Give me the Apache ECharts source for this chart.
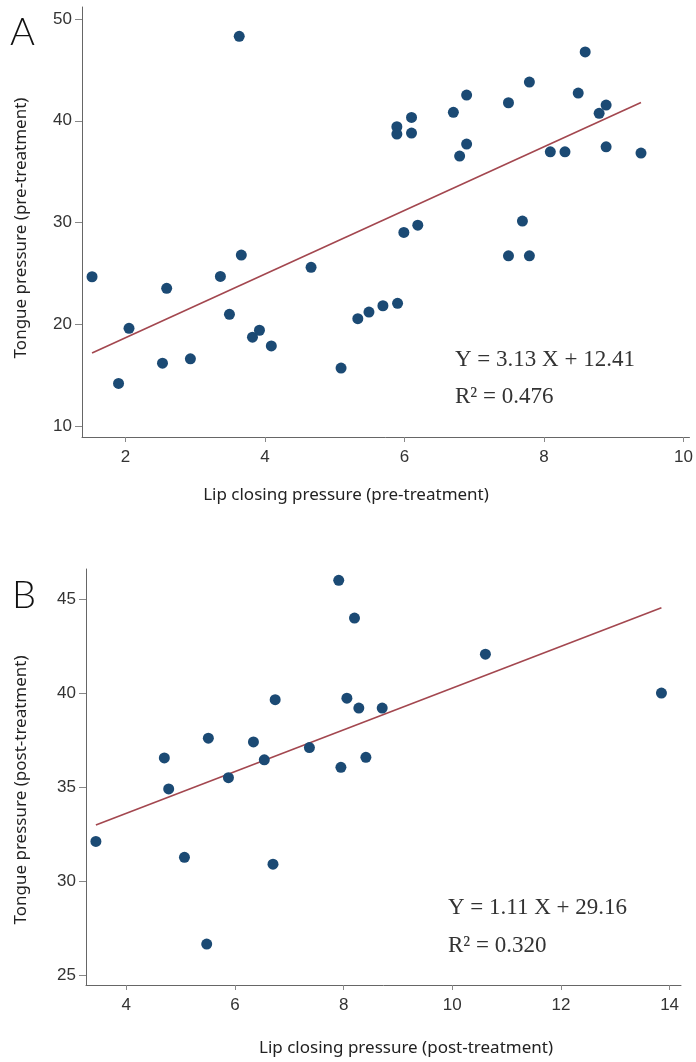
<!DOCTYPE html>
<html>
<head>
<meta charset="utf-8">
<script src="https://cdn.jsdelivr.net/npm/echarts@6/dist/echarts.min.js"></script>
<style>
	html, body { margin: 0; padding: 0; background: #fff; }
	#chart { width: 696px; height: 1062px; }
</style>
</head>
<body>
<div id="chart"></div>
<script>
// panel A: pre-treatment
const lipPre = [1.52, 1.90, 2.05, 2.53, 2.59, 2.93, 3.36, 3.49, 3.63, 3.66, 3.82, 3.92, 4.09, 4.66, 5.09, 5.33, 5.49,
	5.69, 5.90, 5.89, 5.89, 5.99, 6.10, 6.10, 6.19, 6.70, 6.79, 6.89, 6.89, 7.49, 7.49, 7.69, 7.79, 7.79,
	8.09, 8.30, 8.49, 8.59, 8.79, 8.89, 8.89, 9.39];
const tonguePre = [24.67, 14.18, 19.6, 16.18, 23.53, 16.6, 24.7, 20.98, 48.3, 26.8, 18.73, 19.41, 17.87, 25.6, 15.69, 20.55, 21.2,
	21.82, 22.06, 39.41, 38.69, 29.03, 40.33, 38.79, 29.74, 40.83, 36.53, 42.53, 37.71, 41.77, 26.73, 30.14, 26.73, 43.8,
	36.95, 36.95, 42.72, 46.76, 40.73, 41.54, 37.44, 36.82];
const slopePre = 3.13, interceptPre = 12.41, r2Pre = '0.476';
const xTicksPre = [2, 4, 6, 8, 10];
const yTicksPre = [10, 20, 30, 40, 50];

// panel B: post-treatment
const lipPost = [3.44, 4.70, 4.78, 5.07, 5.48, 5.51, 5.88, 6.34, 6.54, 6.70, 6.74, 7.37, 7.91, 7.95, 8.06, 8.20,
	8.28, 8.41, 8.71, 10.61, 13.85];
const tonguePost = [32.11, 36.55, 34.9, 31.26, 26.65, 37.6, 35.5, 37.4, 36.45, 30.9, 39.65, 37.1, 46.0, 36.05, 39.73, 43.99,
	39.2, 36.58, 39.2, 42.07, 40.0];
const slopePost = 1.11, interceptPost = 29.16, r2Post = '0.320';
const xTicksPost = [4, 6, 8, 10, 12, 14];
const yTicksPost = [25, 30, 35, 40, 45];

const zip = (xs, ys) => xs.map((x, i) => [x, ys[i]]);
const fitLine = (xs, a, b) => {
	const lo = Math.min(...xs), hi = Math.max(...xs);
	return [[lo, a * lo + b], [hi, a * hi + b]];
};

const dotColor = '#1b4a74';
const lineColor = '#a3474f';
const tickFont = { fontFamily: 'Liberation Sans', fontSize: 17, color: '#333' };
const titleFont = { fontFamily: 'Noto Sans', fontSize: 17, fill: '#222' };
const eqFont = { fontFamily: 'Liberation Serif', fontSize: 23, fill: '#333' };

function makeAxis(gridIndex, min, max, ticks, isY) {
	return {
		type: 'value',
		gridIndex: gridIndex,
		min: min,
		max: max,
		splitLine: { show: false },
		axisLine: { show: true, lineStyle: { color: '#666', width: 1 } },
		axisTick: { show: true, length: isY ? 7 : 5, lineStyle: { color: '#888' }, customValues: ticks },
		axisLabel: Object.assign({ margin: isY ? 10 : 12, customValues: ticks }, tickFont)
	};
}

const chart = echarts.init(document.getElementById('chart'));

const option = {
	animation: false,
	grid: [
		{ left: 82, top: 7, width: 608, height: 430 },
		{ left: 86, top: 569, width: 595, height: 416 }
	],
	xAxis: [
		makeAxis(0, 1.376, 10.085, xTicksPre, false),
		makeAxis(1, 3.258, 14.21, xTicksPost, false)
	],
	yAxis: [
		makeAxis(0, 8.92, 51.18, yTicksPre, true),
		makeAxis(1, 24.47, 46.6, yTicksPost, true)
	],
	series: [
		{
			type: 'line',
			xAxisIndex: 0, yAxisIndex: 0,
			data: fitLine(lipPre, slopePre, interceptPre),
			symbol: 'none',
			lineStyle: { color: lineColor, width: 1.6 },
			z: 1
		},
		{
			type: 'scatter',
			xAxisIndex: 0, yAxisIndex: 0,
			data: zip(lipPre, tonguePre),
			symbolSize: 11,
			itemStyle: { color: dotColor, opacity: 1 },
			z: 2
		},
		{
			type: 'line',
			xAxisIndex: 1, yAxisIndex: 1,
			data: fitLine(lipPost, slopePost, interceptPost),
			symbol: 'none',
			lineStyle: { color: lineColor, width: 1.6 },
			z: 1
		},
		{
			type: 'scatter',
			xAxisIndex: 1, yAxisIndex: 1,
			data: zip(lipPost, tonguePost),
			symbolSize: 11,
			itemStyle: { color: dotColor, opacity: 1 },
			z: 2
		}
	],
	graphic: [
		// panel letters
		{ type: 'text', left: 10, top: 14, style: { text: 'A', fontFamily: 'Lato', fontWeight: 300, fontSize: 38, fill: '#111' } },
		{ type: 'text', left: 12, top: 577, style: { text: 'B', fontFamily: 'Lato', fontWeight: 300, fontSize: 38, fill: '#111' } },
		// axis titles
		{ type: 'text', x: 346, y: 495, style: Object.assign({ text: 'Lip closing pressure (pre-treatment)', align: 'center', verticalAlign: 'middle' }, titleFont) },
		{ type: 'text', x: 21, y: 228, rotation: Math.PI / 2, style: Object.assign({ text: 'Tongue pressure (pre-treatment)', align: 'center', verticalAlign: 'middle' }, titleFont) },
		{ type: 'text', x: 406, y: 1048, style: Object.assign({ text: 'Lip closing pressure (post-treatment)', align: 'center', verticalAlign: 'middle' }, titleFont) },
		{ type: 'text', x: 21, y: 790, rotation: Math.PI / 2, style: Object.assign({ text: 'Tongue pressure (post-treatment)', align: 'center', verticalAlign: 'middle' }, titleFont) },
		// regression equations
		{ type: 'text', x: 455, y: 360, style: Object.assign({ text: 'Y = ' + slopePre + ' X + ' + interceptPre, verticalAlign: 'middle' }, eqFont) },
		{ type: 'text', x: 455, y: 397, style: Object.assign({ text: 'R\u00b2 = ' + r2Pre, verticalAlign: 'middle' }, eqFont) },
		{ type: 'text', x: 448, y: 908, style: Object.assign({ text: 'Y = ' + slopePost + ' X + ' + interceptPost, verticalAlign: 'middle' }, eqFont) },
		{ type: 'text', x: 448, y: 946, style: Object.assign({ text: 'R\u00b2 = ' + r2Post, verticalAlign: 'middle' }, eqFont) }
	]
};

chart.setOption(option);
</script>
</body>
</html>
